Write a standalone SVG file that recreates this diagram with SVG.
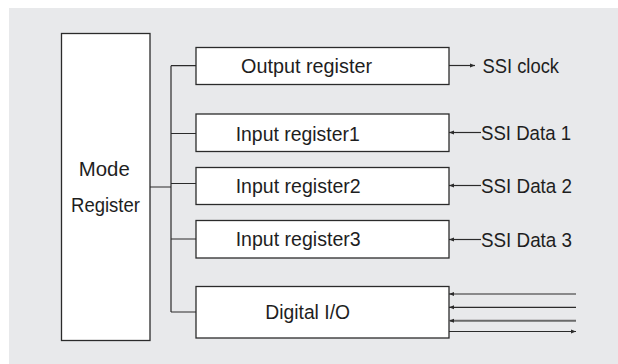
<svg xmlns="http://www.w3.org/2000/svg" width="618" height="364" viewBox="0 0 618 364">
<defs>
<style>
.box{fill:#fff;stroke:#2b2b2b;stroke-width:1.3}
.ln{fill:none;stroke:#2b2b2b;stroke-width:1.2}
.t{font-family:"Liberation Sans",Arial,sans-serif;font-size:20.5px;fill:#1e1e1e}
</style>
<marker id="ah" viewBox="0 0 10 10" refX="10" refY="5" markerWidth="5" markerHeight="5" orient="auto-start-reverse" markerUnits="userSpaceOnUse">
<path d="M0,1 L10,5 L0,9 Z" fill="#2b2b2b"/>
</marker>
</defs>
<rect x="0" y="0" width="618" height="364" fill="#fff"/>
<rect x="9" y="8" width="609" height="356" fill="#e8e9eb"/>

<g id="mode-register">
<rect class="box" x="61.5" y="33.5" width="88.5" height="307"/>
<text class="t" x="78.8" y="176" textLength="51" lengthAdjust="spacingAndGlyphs">Mode</text>
<text class="t" x="71" y="212" textLength="69" lengthAdjust="spacingAndGlyphs">Register</text>
</g>
<g id="output-register">
<rect class="box" x="196" y="47.5" width="253" height="37"/>
<text class="t" x="241" y="72.5" textLength="131" lengthAdjust="spacingAndGlyphs">Output register</text>
</g>
<g id="input-register1">
<rect class="box" x="196" y="114" width="253" height="37.5"/>
<text class="t" x="235.7" y="141" textLength="124" lengthAdjust="spacingAndGlyphs">Input register1</text>
</g>
<g id="input-register2">
<rect class="box" x="196" y="167.5" width="253" height="37"/>
<text class="t" x="235.7" y="193" textLength="125" lengthAdjust="spacingAndGlyphs">Input register2</text>
</g>
<g id="input-register3">
<rect class="box" x="196" y="220.5" width="253" height="37.5"/>
<text class="t" x="235.7" y="246" textLength="125" lengthAdjust="spacingAndGlyphs">Input register3</text>
</g>
<g id="digital-io">
<rect class="box" x="196" y="286.5" width="253" height="51.5"/>
<text class="t" x="265.3" y="318.5" textLength="84.7" lengthAdjust="spacingAndGlyphs">Digital I/O</text>
</g>

<g id="labels">
<text class="t" x="482.5" y="72.5" textLength="76.5" lengthAdjust="spacingAndGlyphs">SSI clock</text>
<text class="t" x="481" y="140" textLength="90" lengthAdjust="spacingAndGlyphs">SSI Data 1</text>
<text class="t" x="481" y="193" textLength="91" lengthAdjust="spacingAndGlyphs">SSI Data 2</text>
<text class="t" x="481" y="246.5" textLength="91" lengthAdjust="spacingAndGlyphs">SSI Data 3</text>
</g>

<g id="connectors">
<path class="ln" d="M150,187 H171 M171,65.7 V312 M171,65.7 H196 M171,133.5 H196 M171,183.5 H196 M171,239 H196 M171,312 H196"/>
<line class="ln" x1="449" y1="65.5" x2="475" y2="65.5" marker-end="url(#ah)"/>
<line class="ln" x1="481" y1="132.5" x2="449" y2="132.5" marker-end="url(#ah)"/>
<line class="ln" x1="481" y1="185.5" x2="449" y2="185.5" marker-end="url(#ah)"/>
<line class="ln" x1="481" y1="239.5" x2="449" y2="239.5" marker-end="url(#ah)"/>
<line class="ln" x1="576" y1="294" x2="449" y2="294" marker-end="url(#ah)"/>
<line class="ln" x1="576" y1="307.3" x2="449" y2="307.3" marker-end="url(#ah)"/>
<line class="ln" x1="576" y1="320.7" x2="449" y2="320.7" marker-end="url(#ah)" style="stroke:#6a6a6a;stroke-width:2"/>
<line class="ln" x1="449" y1="331.5" x2="576" y2="331.5" marker-end="url(#ah)"/>
</g>
</svg>
